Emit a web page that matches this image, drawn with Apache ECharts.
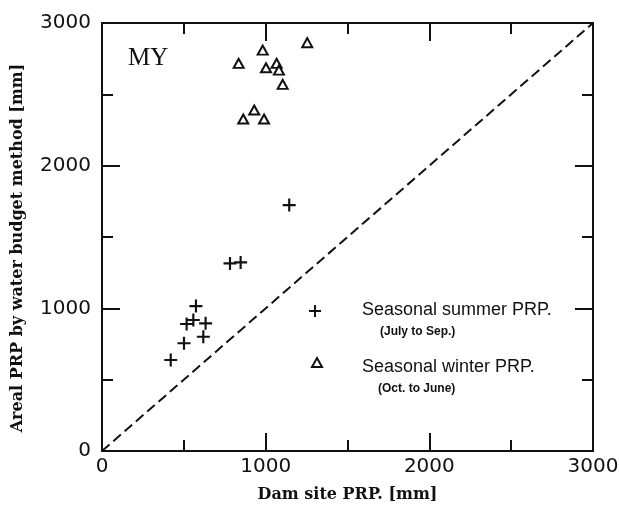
<!DOCTYPE html>
<html>
<head>
<meta charset="utf-8">
<script src="https://cdn.jsdelivr.net/npm/echarts@6/dist/echarts.min.js"></script>
<style>html,body{margin:0;padding:0;background:#fff;}#c{width:619px;height:505px;}</style>
</head>
<body>
<div id="c"></div>
<script>
// Seasonal summer PRP (July to Sep.): [dam site PRP, areal PRP]
const summerX = [420, 501, 517, 558, 574, 619, 633, 782, 847, 1144];
const summerY = [638, 755, 890, 918, 1016, 801, 895, 1315, 1322, 1724];
// Seasonal winter PRP (Oct. to June)
const winterX = [835, 863, 930, 982, 990, 1002, 1067, 1081, 1104, 1254];
const winterY = [2717, 2327, 2390, 2810, 2327, 2686, 2717, 2670, 2570, 2862];
// 1:1 reference line
const lineX = [0, 3000];
const lineY = [0, 3000];
const axisTicks = [0, 1000, 2000, 3000];

const summer = summerX.map((x, i) => [x, summerY[i]]);
const winter = winterX.map((x, i) => [x, winterY[i]]);
const diag = lineX.map((x, i) => [x, lineY[i]]);

const black = '#111';
const plusPath = 'path://M5,0h2v5h5v2h-5v5h-2v-5h-5v-2h5z';

function axisCommon(extra) {
  return Object.assign({
    type: 'value', min: 0, max: 3000, interval: 1000,
    axisLine: {show: true, onZero: false, lineStyle: {color: black, width: 2}},
    axisTick: {show: true, inside: true, length: 18, lineStyle: {color: black, width: 2}},
    minorTick: {show: true, splitNumber: 2, length: 11, lineStyle: {color: black, width: 2}},
    splitLine: {show: false},
    minorSplitLine: {show: false}
  }, extra);
}

const chart = echarts.init(document.getElementById('c'));
chart.setOption({
  animation: false,
  backgroundColor: '#fff',
  grid: {left: 102, right: 26, top: 23, bottom: 54, containLabel: false, outerBoundsMode: 'none'},
  xAxis: [
    axisCommon({
      position: 'bottom',
      axisLabel: {show: true, margin: 6, color: black, fontFamily: 'DejaVu Sans', fontSize: 20,
        formatter: v => axisTicks.includes(v) ? String(v) : ''},
      name: 'Dam site PRP. [mm]', nameLocation: 'middle', nameGap: 36,
      nameTextStyle: {fontFamily: 'DejaVu Serif', fontWeight: 'bold', fontSize: 16, color: black}
    }),
    axisCommon({position: 'top', axisLabel: {show: false}})
  ],
  yAxis: [
    axisCommon({
      position: 'left',
      axisLabel: {show: true, margin: 11, color: black, fontFamily: 'DejaVu Sans', fontSize: 20,
        formatter: v => axisTicks.includes(v) ? String(v) : ''}
    }),
    axisCommon({position: 'right', axisLabel: {show: false}})
  ],
  graphic: [
    {type: 'text', x: 18, y: 248, rotation: Math.PI / 2,
      style: {text: 'Areal PRP by water budget method [mm]', align: 'center', verticalAlign: 'middle',
        fontFamily: 'DejaVu Serif', fontWeight: 'bold', fontSize: 16, fill: black}},
    {type: 'text', x: 128, y: 58,
      style: {text: 'MY', align: 'left', verticalAlign: 'middle',
        fontFamily: 'Liberation Serif', fontSize: 25, fill: black}},
    {type: 'rect', shape: {x: 309, y: 310, width: 12, height: 2}, style: {fill: black}},
    {type: 'rect', shape: {x: 314, y: 305, width: 2, height: 12}, style: {fill: black}},
    {type: 'polygon', shape: {points: [[317, 358], [322, 367], [312, 367]]},
      style: {fill: '#fff', stroke: black, lineWidth: 2}},
    {type: 'text', x: 362, y: 310,
      style: {text: 'Seasonal summer PRP.', align: 'left', verticalAlign: 'middle',
        fontFamily: 'Liberation Sans', fontSize: 18, fill: black}},
    {type: 'text', x: 380, y: 332,
      style: {text: '(July to Sep.)', align: 'left', verticalAlign: 'middle',
        fontFamily: 'Liberation Sans', fontWeight: 'bold', fontSize: 12, fill: black}},
    {type: 'text', x: 362, y: 367,
      style: {text: 'Seasonal winter PRP.', align: 'left', verticalAlign: 'middle',
        fontFamily: 'Liberation Sans', fontSize: 18, fill: black}},
    {type: 'text', x: 378, y: 389,
      style: {text: '(Oct. to June)', align: 'left', verticalAlign: 'middle',
        fontFamily: 'Liberation Sans', fontWeight: 'bold', fontSize: 12, fill: black}}
  ],
  series: [
    {type: 'line', data: diag, showSymbol: false, symbol: 'none',
      lineStyle: {color: black, width: 2, type: [10, 5]}, z: 1, silent: true},
    {name: 'Seasonal summer PRP.', type: 'scatter', data: summer, symbol: plusPath, symbolSize: 13,
      itemStyle: {color: black, opacity: 1}, z: 3},
    {name: 'Seasonal winter PRP.', type: 'scatter', data: winter, symbol: 'triangle', symbolSize: [10, 9],
      itemStyle: {color: '#fff', borderColor: black, borderWidth: 2, opacity: 1}, z: 3}
  ]
});
</script>
</body>
</html>
